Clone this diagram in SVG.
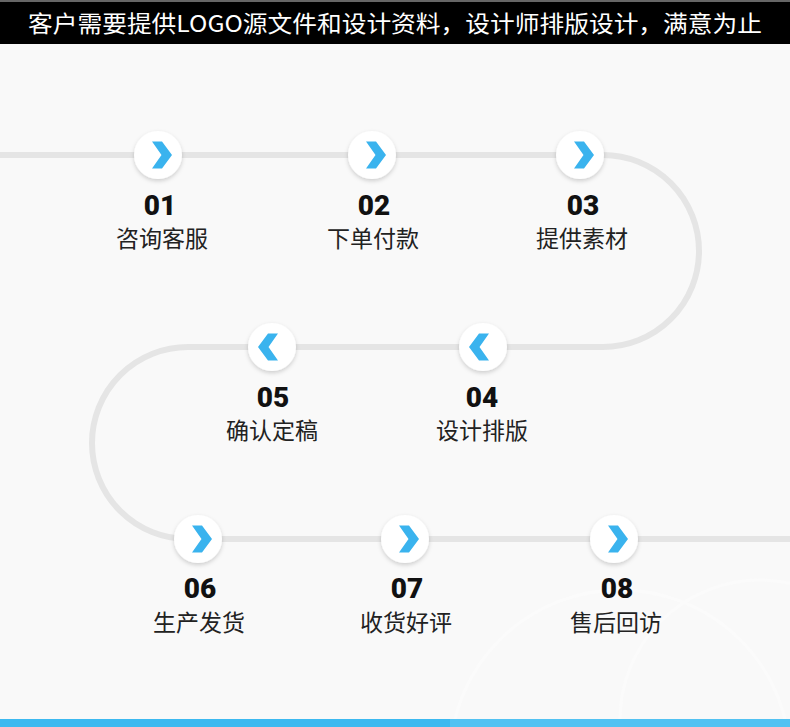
<svg xmlns="http://www.w3.org/2000/svg" width="790" height="727" viewBox="0 0 790 727">
<style>
.num{font-family:Roboto,"Liberation Sans",sans-serif;font-weight:900;font-size:28px;fill:#111;text-anchor:middle}
.lbl{font-family:"Noto Sans CJK SC","Noto Sans",sans-serif;font-size:23px;fill:#222;text-anchor:middle}
.track{fill:none;stroke:#e5e5e5;stroke-width:6}
.node circle{fill:#fff;filter:url(#sh)}
.chev{fill:#3ab3ee}
</style>
<defs>
<filter id="sh" x="-40%" y="-40%" width="180%" height="180%">
<feDropShadow dx="0" dy="2" stdDeviation="2" flood-color="#000" flood-opacity="0.18"/>
</filter>
<polygon id="right" points="-8,-13.5 2,-13.5 12,0 2,13.5 -8,13.5 1.5,0"/>
<polygon id="left" points="8,-13.5 -2,-13.5 -12,0 -2,13.5 8,13.5 -1.5,0"/>
</defs>
<rect width="790" height="727" fill="#f9f9f9"/>
<g fill="none" stroke="#fbfbfb" stroke-width="3">
<circle cx="620" cy="760" r="170"/>
<circle cx="760" cy="720" r="140"/>
</g>
<rect x="0" y="0" width="790" height="2" fill="#666"/>
<rect x="0" y="2" width="790" height="42" fill="#000"/>
<text x="28" y="32" font-family="'Noto Sans CJK SC','Noto Sans',sans-serif" font-size="23" fill="#fff" textLength="734" lengthAdjust="spacingAndGlyphs">客户需要提供LOGO源文件和设计资料，设计师排版设计，满意为止</text>
<rect x="0" y="719" width="790" height="8" fill="#3cb9f0"/>
<rect x="450" y="719" width="340" height="8" fill="#52c2f2"/>
<g id="connectors">
<path class="track" d="M0,155 H603 A96,96 0 0 1 603,347 H188 A96,96 0 0 0 188,539 H790"/>
</g>
<g id="n01" class="node"><circle cx="158" cy="155" r="24"/><use href="#right" x="160" y="155" class="chev"/><text class="num" x="160" y="215">01</text><text class="lbl" x="162" y="247">咨询客服</text></g>
<g id="n02" class="node"><circle cx="372" cy="155" r="24"/><use href="#right" x="374" y="155" class="chev"/><text class="num" x="374" y="215">02</text><text class="lbl" x="373" y="247">下单付款</text></g>
<g id="n03" class="node"><circle cx="580" cy="155" r="24"/><use href="#right" x="582" y="155" class="chev"/><text class="num" x="583" y="215">03</text><text class="lbl" x="582" y="247">提供素材</text></g>
<g id="n04" class="node"><circle cx="483" cy="347" r="24"/><use href="#left" x="481" y="347" class="chev"/><text class="num" x="482" y="407">04</text><text class="lbl" x="482" y="439">设计排版</text></g>
<g id="n05" class="node"><circle cx="272" cy="347" r="24"/><use href="#left" x="270" y="347" class="chev"/><text class="num" x="273" y="407">05</text><text class="lbl" x="272" y="439">确认定稿</text></g>
<g id="n06" class="node"><circle cx="198" cy="539" r="24"/><use href="#right" x="200" y="539" class="chev"/><text class="num" x="200" y="598">06</text><text class="lbl" x="199" y="631">生产发货</text></g>
<g id="n07" class="node"><circle cx="405" cy="539" r="24"/><use href="#right" x="407" y="539" class="chev"/><text class="num" x="407" y="598">07</text><text class="lbl" x="406" y="631">收货好评</text></g>
<g id="n08" class="node"><circle cx="614" cy="539" r="24"/><use href="#right" x="616" y="539" class="chev"/><text class="num" x="617" y="598">08</text><text class="lbl" x="616" y="631">售后回访</text></g>
</svg>
